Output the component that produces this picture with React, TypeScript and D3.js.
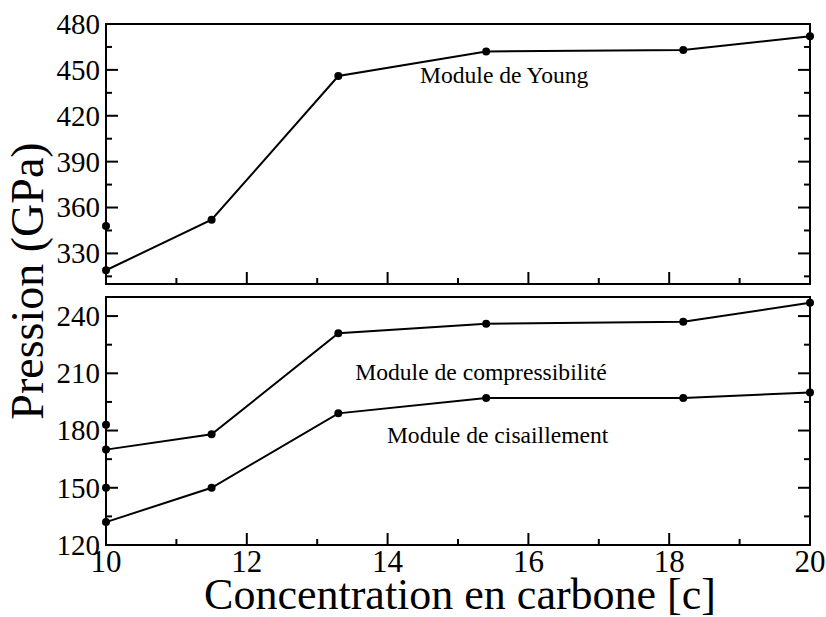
import React from 'react';
import * as d3 from 'd3';

// concentrations en carbone
const concentrations = [10, 11.5, 13.3, 15.4, 18.2, 20];
const youngValues = [319, 352, 446, 462, 463, 472];
const compressValues = [170, 178, 231, 236, 237, 247];
const shearValues = [132, 150, 189, 197, 197, 200];
// points isolés à c = 10
const youngExtra = [{ x: 10, y: 348 }];
const compressExtra = [{ x: 10, y: 183 }];
const shearExtra = [{ x: 10, y: 150 }];

const xMajorTicks = [10, 12, 14, 16, 18, 20];
const xMinorTicks = [11, 13, 15, 17, 19];
const topMajorTicks = [330, 360, 390, 420, 450, 480];
const topMinorTicks = [315, 345, 375, 405, 435, 465];
const bottomMajorTicks = [120, 150, 180, 210, 240];
const bottomMinorTicks = [135, 165, 195, 225];

const labels = [
  { panel: 'top', text: 'Module de Young', x: 14.46, y: 441.4 },
  { panel: 'bottom', text: 'Module de compressibilité', x: 13.54, y: 206.4 },
  { panel: 'bottom', text: 'Module de cisaillement', x: 13.99, y: 173.3 },
];

const FONT = 'Liberation Serif';
const LEFT = 106;
const RIGHT = 810;

const x = d3.scaleLinear().domain([10, 20]).range([LEFT, RIGHT]);

const panels = [
  {
    name: 'top',
    y: d3.scaleLinear().domain([310, 480]).range([284, 24]),
    major: topMajorTicks,
    minor: topMinorTicks,
    series: [{ vals: youngValues, extra: youngExtra }],
    xLabels: false,
  },
  {
    name: 'bottom',
    y: d3.scaleLinear().domain([120, 250]).range([545, 297]),
    major: bottomMajorTicks,
    minor: bottomMinorTicks,
    series: [
      { vals: compressValues, extra: compressExtra },
      { vals: shearValues, extra: shearExtra },
    ],
    xLabels: true,
  },
];

const Panel: React.FC<{ p: typeof panels[number] }> = ({ p }) => {
  const [y0, y1] = p.y.range();
  const line = d3.line<number>()
    .x((_, i) => x(concentrations[i]))
    .y(d => p.y(d));
  const sw = 2;

  return (
    <g>
      {/* ticks gauche / droite */}
      {p.major.map(t => (
        <g key={'M' + t}>
          <line x1={LEFT} x2={LEFT + 12} y1={p.y(t)} y2={p.y(t)} stroke="#000" strokeWidth={sw} />
          <line x1={RIGHT} x2={RIGHT - 12} y1={p.y(t)} y2={p.y(t)} stroke="#000" strokeWidth={sw} />
          <text x={LEFT - 6} y={p.y(t)} dy="0.34em" textAnchor="end" fontFamily={FONT} fontSize={29}>
            {t}
          </text>
        </g>
      ))}
      {p.minor.map(t => (
        <g key={'m' + t}>
          <line x1={LEFT} x2={LEFT + 6} y1={p.y(t)} y2={p.y(t)} stroke="#000" strokeWidth={sw} />
          <line x1={RIGHT} x2={RIGHT - 6} y1={p.y(t)} y2={p.y(t)} stroke="#000" strokeWidth={sw} />
        </g>
      ))}
      {/* ticks bas */}
      {xMajorTicks.map(t => (
        <g key={'X' + t}>
          <line x1={x(t)} x2={x(t)} y1={y0} y2={y0 - 12} stroke="#000" strokeWidth={sw} />
          {p.xLabels && (
            <text x={x(t)} y={y0 + 27} textAnchor="middle" fontFamily={FONT} fontSize={31}>
              {t}
            </text>
          )}
        </g>
      ))}
      {xMinorTicks.map(t => (
        <line key={'x' + t} x1={x(t)} x2={x(t)} y1={y0} y2={y0 - 6} stroke="#000" strokeWidth={sw} />
      ))}
      {/* cadre */}
      <rect x={LEFT} y={y1} width={RIGHT - LEFT} height={y0 - y1} fill="none" stroke="#000" strokeWidth={sw} />

      {p.series.map((s, k) => (
        <g key={k}>
          <path d={line(s.vals) ?? ''} fill="none" stroke="#000" strokeWidth={sw} />
          {s.vals.map((v, i) => (
            <circle key={i} cx={x(concentrations[i])} cy={p.y(v)} r={4} fill="#000" />
          ))}
          {s.extra.map((d, i) => (
            <circle key={'e' + i} cx={x(d.x)} cy={p.y(d.y)} r={4} fill="#000" />
          ))}
        </g>
      ))}

      {labels.filter(l => l.panel === p.name).map(l => (
        <text key={l.text} x={x(l.x)} y={p.y(l.y)} fontFamily={FONT} fontSize={23.6}>
          {l.text}
        </text>
      ))}
    </g>
  );
};

const App: React.FC = () => (
  <svg width={826} height={617} style={{ position: 'absolute', left: 0, top: 0, background: '#fff' }}>
    {panels.map(p => (
      <Panel key={p.name} p={p} />
    ))}
    <text x={460} y={609} textAnchor="middle" fontFamily={FONT} fontSize={44}>
      Concentration en carbone [c]
    </text>
    <text transform="translate(43,281) rotate(-90)" textAnchor="middle" fontFamily={FONT} fontSize={46}>
      Pression (GPa)
    </text>
  </svg>
);

export default App;
